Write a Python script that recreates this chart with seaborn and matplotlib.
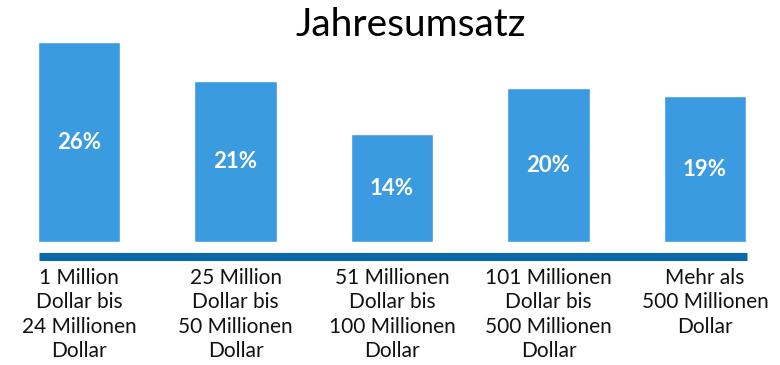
import matplotlib
matplotlib.use("Agg")
import matplotlib.pyplot as plt
import seaborn as sns
import pandas as pd

categories = [
    "1 Million\nDollar bis\n24 Millionen\nDollar",
    "25 Million\nDollar bis\n50 Millionen\nDollar",
    "51 Millionen\nDollar bis\n100 Millionen\nDollar",
    "101 Millionen\nDollar bis\n500 Millionen\nDollar",
    "Mehr als\n500 Millionen\nDollar",
]
values = [26, 21, 14, 20, 19]
value_labels = ["26%", "21%", "14%", "20%", "19%"]
title = "Jahresumsatz"

BAR_COLOR = "#3a9be0"
BASE_COLOR = "#0a69a8"

sns.set_theme(style="white")
plt.rcParams["font.family"] = ["Lato", "DejaVu Sans"]

W, H = 780, 365
fig = plt.figure(figsize=(W / 100, H / 100), dpi=100)
fig.patch.set_facecolor("white")

# axes spans the full width; bottom edge sits at the baseline strip
bottom_px = 261
ax = fig.add_axes([0, (H - bottom_px) / H, 1, bottom_px / H])

df = pd.DataFrame({"cat": categories, "val": values})
sns.barplot(data=df, x="cat", y="val", color=BAR_COLOR, saturation=1,
            width=0.524, ax=ax)

px_per_unit = 7.68
step = 156.5
x0_px = 79
ax.set_xlim(-x0_px / step, (W - x0_px) / step)
ax.set_ylim(-(bottom_px - 242) / px_per_unit, 242 / px_per_unit)

# thick baseline under the bars
base_y = -(256.5 - 242) / px_per_unit
ax.plot([(39 - x0_px) / step, (747 - x0_px) / step], [base_y, base_y],
        color=BASE_COLOR, lw=6.6, solid_capstyle="butt", zorder=3)

for i, (v, lab) in enumerate(zip(values, value_labels)):
    ax.text(i, v / 2, lab, ha="center", va="center", color="white",
            fontsize=16, fontweight="bold")

ax.set_xlabel("")
ax.set_ylabel("")
ax.set_yticks([])
ax.tick_params(axis="x", length=0, pad=5, labelsize=15, colors="#111111")
for t in ax.get_xticklabels():
    t.set_linespacing(1.28)
    t.set_horizontalalignment("center")
for s in ax.spines.values():
    s.set_visible(False)
ax.patch.set_alpha(0)

fig.text(411 / W, 1 - 25 / H, title, ha="center", va="center",
         fontsize=28, color="#000000")

fig.savefig("out.png", dpi=100, facecolor="white")
